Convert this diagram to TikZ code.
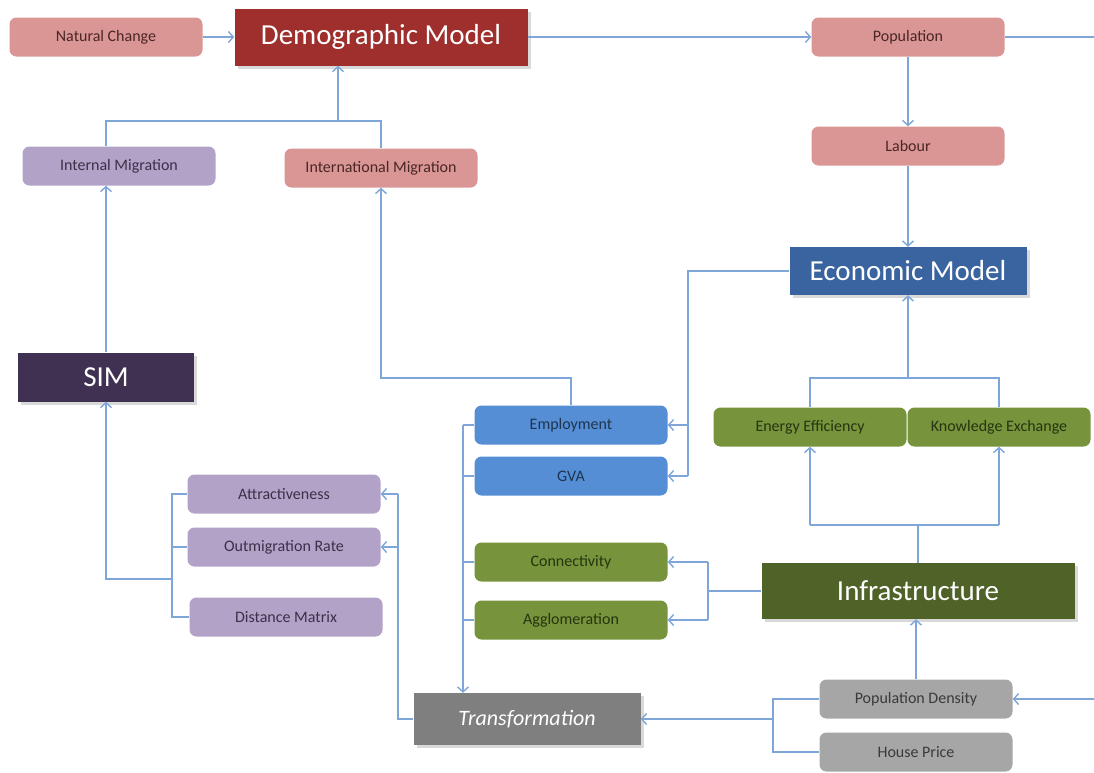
\documentclass[tikz,border=0pt]{standalone}
\usepackage{fontspec}
\setmainfont{Carlito}
\usetikzlibrary{arrows.meta,shadows}
\definecolor{pinkc}{HTML}{D99694}
\definecolor{pinkt}{HTML}{4A2626}
\definecolor{demc}{HTML}{9E2F2D}
\definecolor{purc}{HTML}{B3A2C7}
\definecolor{purt}{HTML}{3A3048}
\definecolor{simc}{HTML}{403152}
\definecolor{ecoc}{HTML}{3A64A0}
\definecolor{empc}{HTML}{558ED5}
\definecolor{empt}{HTML}{1F3550}
\definecolor{grnc}{HTML}{77933C}
\definecolor{grnt}{HTML}{26340F}
\definecolor{infc}{HTML}{4F6228}
\definecolor{trac}{HTML}{7F7F7F}
\definecolor{grayc}{HTML}{A6A6A6}
\definecolor{grayt}{HTML}{3A3A3A}
\definecolor{linec}{HTML}{7EA6D8}
\begin{document}
\begin{tikzpicture}[x=1pt,y=-1pt,
  box/.style={rounded corners=7pt, minimum width=193pt, minimum height=39pt, inner sep=0pt, font=\fontsize{16}{18}\selectfont},
  pinkbox/.style={box, fill=pinkc, text=pinkt},
  purbox/.style={box, fill=purc, text=purt},
  bluebox/.style={box, fill=empc, text=empt},
  grnbox/.style={box, fill=grnc, text=grnt},
  graybox/.style={box, fill=grayc, text=grayt},
  big/.style={inner sep=0pt, text=white, font=\fontsize{29}{33}\selectfont, drop shadow={opacity=0.3, shadow xshift=3pt, shadow yshift=-3pt}},
  conn/.style={draw=linec, line width=1.4pt},
  arr/.style={conn, -{Straight Barb[length=5pt,width=11pt]}}
]
\useasboundingbox (0,0) rectangle (1094,772);
% nodes
\node[pinkbox] (nat) at (106,37) {Natural Change};
\node[big, fill=demc, minimum width=293pt, minimum height=57pt] (dem) at (381,37) {Demographic Model};
\node[pinkbox] (pop) at (908,37) {Population};
\node[pinkbox] (lab) at (908,146) {Labour};
\node[purbox] (intm) at (119,166) {Internal Migration};
\node[pinkbox] (inlm) at (381,168) {International Migration};
\node[big, fill=ecoc, minimum width=237pt, minimum height=48pt] (eco) at (908,271) {Economic Model};
\node[big, fill=simc, minimum width=176pt, minimum height=49pt] (sim) at (106,377) {SIM};
\node[bluebox] (emp) at (571,425) {Employment};
\node[bluebox] (gva) at (571,476) {GVA};
\node[grnbox, minimum width=193pt] (ee) at (810,427) {Energy Efficiency};
\node[grnbox, minimum width=183pt] (ke) at (999,427) {Knowledge Exchange};
\node[purbox] (att) at (284,494) {Attractiveness};
\node[purbox] (out) at (284,547) {Outmigration Rate};
\node[purbox] (dist) at (286,617) {Distance Matrix};
\node[grnbox] (con) at (571,562) {Connectivity};
\node[grnbox] (agg) at (571,620) {Agglomeration};
\node[big, fill=infc, minimum width=313pt, minimum height=56pt] (inf) at (918,591) {Infrastructure};
\node[big, fill=trac, minimum width=227pt, minimum height=52pt, font=\fontsize{22}{26}\selectfont\itshape] (tra) at (527,719) {Transformation};
\node[graybox] (pd) at (916,699) {Population Density};
\node[graybox] (hp) at (916,752) {House Price};
% helper coordinates
\coordinate (popR) at (1094,37);
\coordinate (pdR) at (1094,699);
\coordinate (jm) at (338,121);
\coordinate (ej) at (0,378);
\coordinate (sb) at (172,579);
\coordinate (tx) at (398,0);
\coordinate (ex) at (688,0);
\coordinate (lx) at (463,0);
\coordinate (ix) at (708,0);
\coordinate (iy) at (0,525);
\coordinate (hx) at (773,0);
% connectors
\draw[arr] (nat) -- (dem);
\draw[arr] (dem) -- (pop);
\draw[conn] (pop) -- (popR);
\draw[arr] (pop) -- (lab);
\draw[arr] (lab) -- (eco);
\draw[conn] (intm.north -| sim) |- (jm) -| (inlm.north);
\draw[arr] (jm) -- (jm |- dem.south);
\draw[arr] (sim.north) -- (sim.north |- intm.south);
\draw[arr] (emp.north) |- (inlm.south |- ej) -- (inlm.south);
\draw[conn] (att.west) -- (att.west -| sb) -- (dist.west -| sb) -- (dist.west);
\draw[conn] (out.west) -- (out.west -| sb);
\draw[arr] (sb) -| (sim.south);
\draw[conn] (tra.west) -- (tra.west -| tx) -- (att.east -| tx);
\draw[arr] (att.east -| tx) -- (att.east);
\draw[arr] (out.east -| tx) -- (out.east);
\draw[conn] (eco.west) -- (eco.west -| ex) -- (gva.east -| ex);
\draw[arr] (emp.east -| ex) -- (emp.east);
\draw[arr] (gva.east -| ex) -- (gva.east);
\draw[conn] (emp.west) -- (emp.west -| lx);
\draw[arr] (emp.west -| lx) -- (lx |- tra.north);
\draw[conn] (gva.west) -- (gva.west -| lx);
\draw[conn] (con.west) -- (con.west -| lx);
\draw[conn] (agg.west) -- (agg.west -| lx);
\draw[conn] (inf.west) -- (inf.west -| ix);
\draw[conn] (con.east -| ix) -- (agg.east -| ix);
\draw[arr] (con.east -| ix) -- (con.east);
\draw[arr] (agg.east -| ix) -- (agg.east);
\draw[conn] (inf.north) -- (inf.north |- iy);
\draw[conn] (ee.south |- iy) -- (ke.south |- iy);
\draw[arr] (ee.south |- iy) -- (ee.south);
\draw[arr] (ke.south |- iy) -- (ke.south);
\draw[conn] (ee.north) |- (ke.north |- ej) -- (ke.north);
\draw[arr] (eco.south |- ej) -- (eco.south);
\draw[arr] (pd.north) -- (pd.north |- inf.south);
\draw[arr] (pdR) -- (pd.east);
\draw[conn] (pd.west) -- (pd.west -| hx) -- (hp.west -| hx) -- (hp.west);
\draw[arr] (tra.east -| hx) -- (tra.east);
\end{tikzpicture}
\end{document}
